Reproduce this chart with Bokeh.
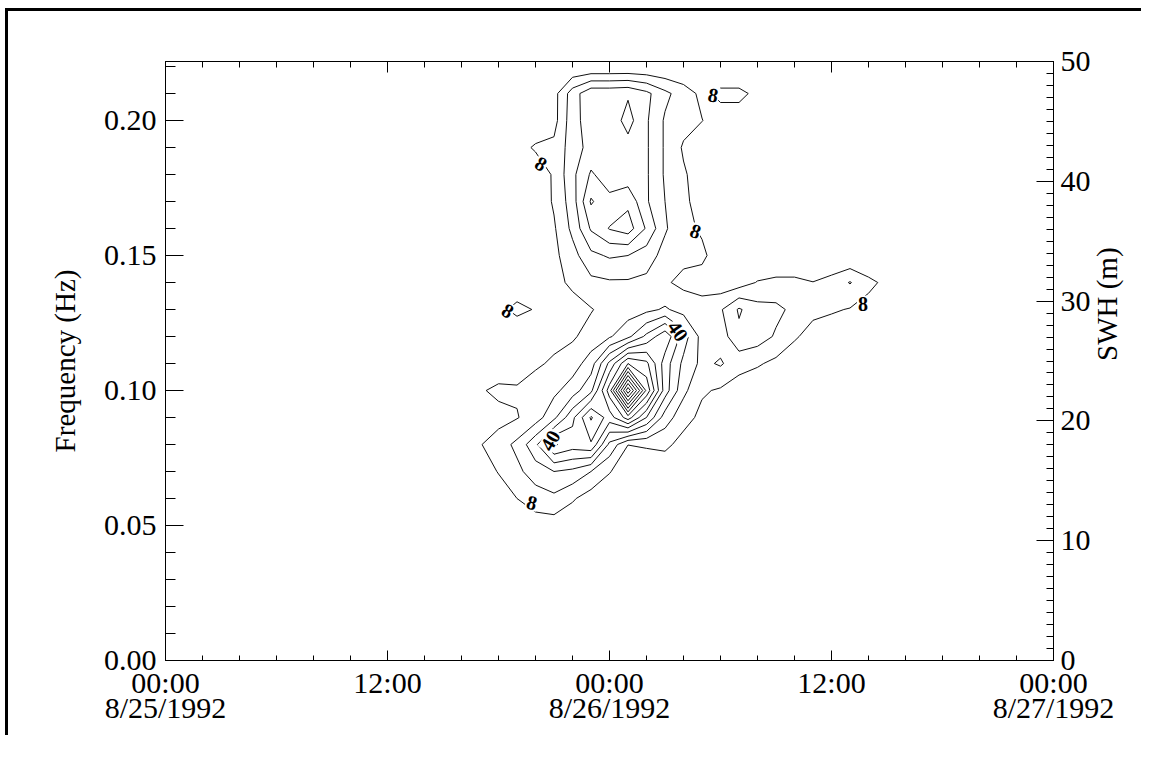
import math
import numpy as np
from bokeh.plotting import figure
from bokeh.models import Range1d, LinearAxis, FixedTicker, ColumnDataSource
from bokeh.embed import file_html
from bokeh.resources import INLINE
from bokeh.core.properties import value

# ---------------- data ----------------
# time axis in hours since 8/25/1992 00:00
grid_hours = [16, 17, 18, 19, 20, 21, 22, 23, 24, 25, 26, 27, 28,
              29, 30, 31, 32, 33, 34, 35, 36, 37, 38, 39, 40]
grid_freqs = [0.05, 0.06, 0.07, 0.08, 0.09, 0.10, 0.11, 0.12, 0.13,
              0.14, 0.15, 0.16, 0.17, 0.18, 0.19, 0.20, 0.21, 0.22]

# estimated spectral energy, one row per frequency (columns = grid_hours)
e_005 = [0, 0, 0, 2, 4, 4, 2, 0, 0, 0, 0, 0, 0, 0, 0, 0, 0, 0, 0, 0, 0, 0, 0, 0, 0]
e_006 = [0, 0, 3, 8, 12, 14, 9, 4, 2, 0, 0, 0, 0, 0, 0, 0, 0, 0, 0, 0, 0, 0, 0, 0, 0]
e_007 = [0, 3, 8.5, 14, 20, 24, 22, 16, 8.5, 3, 2, 2, 0, 0, 0, 0, 0, 0, 0, 0, 0, 0, 0, 0, 0]
e_008 = [3, 7.5, 12, 18, 30, 49, 44, 47, 22, 8.1, 9, 10, 5, 2, 0, 0, 0, 0, 0, 0, 0, 0, 0, 0, 0]
e_009 = [0, 4, 5, 7.5, 12, 22, 38, 57, 44, 60, 40, 20, 11, 6, 2, 0, 0, 0, 0, 0, 0, 0, 0, 0, 0]
e_010 = [2, 7, 10, 9, 11, 14, 20, 30, 60, 118, 70, 36, 18, 9, 7, 4, 2, 0, 0, 0, 0, 0, 0, 0, 0]
e_011 = [0, 0, 2, 4, 7, 9, 12, 20, 42, 64, 58, 36, 22, 14, 17, 11, 9, 6, 3, 0, 0, 0, 0, 0, 0]
e_012 = [0, 0, 0, 2, 5, 6, 7, 11, 15, 22, 34, 46, 28, 13, 12, 22, 20, 15, 9, 5, 3, 2, 0, 0, 0]
e_013 = [0, 0, 6, 10, 7.5, 3, 4, 7.5, 11, 12, 14, 17, 13, 11, 15, 25, 19, 18, 14, 10, 9, 7.5, 5, 2, 0]
e_014 = [0, 0, 0, 3, 2, 5, 10, 14, 15, 15, 14, 9, 6, 5, 3, 4, 8.5, 10, 10, 8.2, 11, 16.5, 10, 6, 0]
e_015 = [0, 0, 0, 0, 1, 6, 13, 22, 25, 24, 20, 13, 10, 9.5, 4, 0, 0, 0, 0, 0, 0, 0, 0, 0, 0]
e_016 = [0, 0, 0, 0, 2, 7, 18, 33, 40.5, 44, 31, 17, 10, 7, 3, 0, 0, 0, 0, 0, 0, 0, 0, 0, 0]
e_017 = [0, 0, 0, 0, 2, 9, 20, 41, 34, 38, 25, 16, 10, 4, 0, 0, 0, 0, 0, 0, 0, 0, 0, 0, 0]
e_018 = [0, 0, 0, 1, 3, 9, 22, 33, 28, 27, 25, 15, 9, 4, 0, 0, 0, 0, 0, 0, 0, 0, 0, 0, 0]
e_019 = [0, 0, 0, 5, 9, 10, 20, 27, 28, 29, 25, 15, 7, 3, 0, 0, 0, 0, 0, 0, 0, 0, 0, 0, 0]
e_020 = [0, 0, 0, 0, 2, 5, 21, 28, 27, 35, 25, 15, 11, 8.2, 4, 4, 2, 0, 0, 0, 0, 0, 0, 0, 0]
e_021 = [0, 0, 0, 0, 2, 5, 20, 30, 30, 31, 26, 18, 12, 6, 10, 10, 6, 0, 0, 0, 0, 0, 0, 0, 0]
e_022 = [0, 0, 0, 0, 0, 0, 0, 0, 0, 0, 0, 0, 0, 0, 0, 0, 0, 0, 0, 0, 0, 0, 0, 0, 0]

contour_levels = [8, 16, 24, 32, 40, 48, 56, 64, 72, 80, 88, 96, 104, 112]

# contour labels
label_hours = [18.5, 20.3, 28.65, 29.6, 19.8, 37.7, 20.8, 27.7]
label_freqs = [0.1296, 0.184, 0.159, 0.2095, 0.0585, 0.1322, 0.0815, 0.122]
label_texts = ["8", "8", "8", "8", "8", "8", "40", "40"]

# axis ticks
x_tick_hours = [0, 12, 24, 36, 48]
x_tick_labels = ["00:00\n8/25/1992", "12:00", "00:00\n8/26/1992", "12:00", "00:00\n8/27/1992"]
x_minor_hours = [0, 2, 4, 6, 8, 10, 12, 14, 16, 18, 20, 22, 24, 26, 28, 30, 32,
                 34, 36, 38, 40, 42, 44, 46, 48]
freq_ticks = [0.0, 0.05, 0.10, 0.15, 0.20]
freq_tick_labels = ["0.00", "0.05", "0.10", "0.15", "0.20"]
freq_minor = [0.0, 0.01, 0.02, 0.03, 0.04, 0.05, 0.06, 0.07, 0.08, 0.09, 0.10, 0.11,
              0.12, 0.13, 0.14, 0.15, 0.16, 0.17, 0.18, 0.19, 0.20, 0.21, 0.22]
swh_ticks = [0, 10, 20, 30, 40, 50]
swh_tick_labels = ["0", "10", "20", "30", "40", "50"]
swh_minor = list(range(0, 51))

# ---------------- styles ----------------
FONT = "Liberation Serif"
label_angles_deg = [-30, -30, -20, -10, -15, 0, 60, -55]

energy = np.array([e_005, e_006, e_007, e_008, e_009, e_010, e_011, e_012, e_013,
                   e_014, e_015, e_016, e_017, e_018, e_019, e_020, e_021, e_022], dtype=float)

p = figure(frame_width=888, frame_height=599,
           x_range=Range1d(0, 48), y_range=Range1d(0, 599 / 2700),
           output_backend="svg", toolbar_location=None,
           min_border_left=157, min_border_top=50, min_border_right=80, min_border_bottom=75,
           background_fill_color="white", border_fill_color="white")
p.extra_y_ranges = {"swh": Range1d(0, 50)}
p.grid.visible = False
p.outline_line_color = "black"
p.outline_line_width = 1
p.styles = {"border-left": "3px solid black", "border-top": "3px solid black",
            "margin-left": "5px", "margin-top": "8px"}

p.contour(grid_hours, grid_freqs, energy, levels=contour_levels,
          line_color="#111111", line_width=1)

src = ColumnDataSource(dict(x=label_hours, y=label_freqs, text=label_texts, angle=label_angles_deg))
p.text(x="x", y="y", text="text", angle="angle", angle_units="deg", source=src,
       text_font=value(FONT), text_font_size="20px", text_font_style="bold",
       text_align="center", text_baseline="middle", text_color="black",
       background_fill_color="white", padding=1)


def style_axis(ax):
    ax.axis_line_color = "black"
    ax.axis_line_width = 1
    ax.major_tick_line_color = "black"
    ax.minor_tick_line_color = "black"
    ax.major_tick_out = 0
    ax.minor_tick_out = 0
    ax.major_label_text_font = FONT
    ax.major_label_text_font_size = "30px"
    ax.major_label_text_color = "black"
    ax.axis_label_text_font = FONT
    ax.axis_label_text_font_size = "29px"
    ax.axis_label_text_font_style = "normal"
    ax.axis_label_text_color = "black"


# bottom axis
xa = p.xaxis[0]
style_axis(xa)
xa.ticker = FixedTicker(ticks=x_tick_hours, minor_ticks=x_minor_hours)
xa.major_label_overrides = dict(zip(x_tick_hours, x_tick_labels))
xa.major_tick_in = 10
xa.minor_tick_in = 5
xa.major_label_standoff = 5
xa.major_label_text_line_height = 0.76

# top axis
ta = LinearAxis(ticker=FixedTicker(ticks=x_tick_hours, minor_ticks=x_minor_hours))
style_axis(ta)
ta.major_tick_in = 11
ta.minor_tick_in = 6
ta.major_label_text_color = None
p.add_layout(ta, "above")

# left axis
ya = p.yaxis[0]
style_axis(ya)
ya.ticker = FixedTicker(ticks=freq_ticks, minor_ticks=freq_minor)
ya.major_label_overrides = dict(zip(freq_ticks, freq_tick_labels))
ya.major_tick_in = 18
ya.minor_tick_in = 10
ya.major_label_standoff = 9
ya.axis_label = "Frequency (Hz)"
ya.axis_label_standoff = 20

# right axis (SWH), title reading bottom-to-top like the left one
ra = LinearAxis(y_range_name="swh", ticker=FixedTicker(ticks=swh_ticks, minor_ticks=swh_minor))
style_axis(ra)
ra.major_label_overrides = dict(zip(swh_ticks, swh_tick_labels))
ra.major_tick_in = 17
ra.minor_tick_in = 7
ra.major_label_standoff = 7
ra.axis_label = "SWH (m)"
ra.axis_label_standoff = 13
ra.axis_label_orientation = math.pi / 2
p.add_layout(ra, "right")

open("out.html", "w").write(file_html(p, INLINE))
